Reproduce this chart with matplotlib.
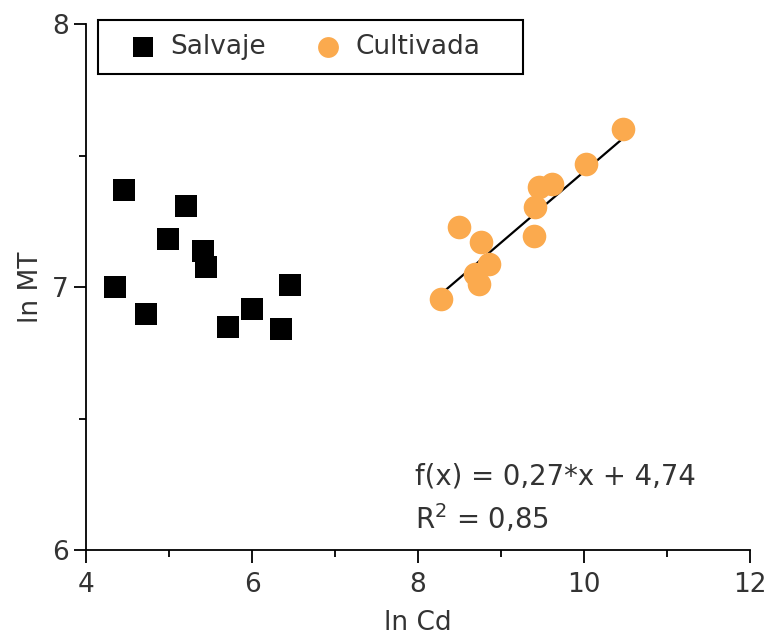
import numpy as np
import matplotlib.pyplot as plt
from matplotlib.patches import Rectangle
from matplotlib.ticker import MultipleLocator

# Salvaje (wild) samples
salv_x = [4.46, 5.20, 4.99, 5.41, 5.44, 4.35, 6.46, 4.72, 6.00, 5.71, 6.35]
salv_y = [7.369, 7.309, 7.185, 7.137, 7.076, 7.001, 7.010, 6.900, 6.917, 6.849, 6.841]

# Cultivada (cultivated) samples
cult_x = [10.47, 10.02, 9.61, 9.46, 9.41, 8.49, 9.39, 8.76, 8.85, 8.69, 8.73, 8.28]
cult_y = [7.603, 7.470, 7.394, 7.381, 7.305, 7.229, 7.194, 7.172, 7.090, 7.052, 7.014, 6.957]

# fit reported on the chart
slope, intercept, r2 = 0.27, 4.74, 0.85

orange = '#FBAA4E'
plt.rcParams['font.family'] = 'DejaVu Sans'
plt.rcParams['font.size'] = 19

fig = plt.figure(figsize=(7.75, 6.39), dpi=100)
ax = fig.add_axes([0.111, 0.139, 0.857, 0.823])

ax.scatter(salv_x, salv_y, marker='s', s=16**2, color='black', lw=0, label='Salvaje', zorder=3)
xf = np.array([min(cult_x), max(cult_x)])
ax.plot(xf, slope * xf + intercept, color='black', lw=1.6, zorder=2)
ax.scatter(cult_x, cult_y, marker='o', s=17**2, color=orange, lw=0, label='Cultivada', zorder=3)

ax.set_xlim(4, 12)
ax.set_ylim(6, 8)
ax.xaxis.set_major_locator(MultipleLocator(2))
ax.xaxis.set_minor_locator(MultipleLocator(1))
ax.yaxis.set_major_locator(MultipleLocator(1))
ax.yaxis.set_minor_locator(MultipleLocator(0.5))
for s in ['top', 'right']:
    ax.spines[s].set_visible(False)
for s in ['left', 'bottom']:
    ax.spines[s].set_linewidth(1.3)
ax.tick_params(which='major', length=9, width=1.3, color='black', labelcolor='#333333')
ax.tick_params(axis='x', which='major', pad=7)
ax.tick_params(which='minor', length=5, width=1.3, color='black')

ax.set_xlabel('ln Cd', color='#333333', labelpad=8)
ax.set_ylabel('ln MT', color='#333333', labelpad=6)

ax.text(7.96, 6.25, f'f(x) = {slope:.2f}*x + {intercept:.2f}'.replace('.', ','),
        color='#333333', fontsize=19.8)
ax.text(7.96, 6.08, f'R$^2$ = {r2:.2f}'.replace('.', ','), color='#333333', fontsize=19.8)

# legend box drawn separately so its padding matches the original
fig.patches.append(Rectangle((98 / 775, 1 - 74 / 639), 425 / 775, 54 / 639,
                             transform=fig.transFigure, fill=False, edgecolor='black', lw=1.5))
leg = ax.legend(loc='center left', bbox_to_anchor=(111 / 775, 1 - 47 / 639), bbox_transform=fig.transFigure,
                ncol=2, frameon=False, borderpad=0, handletextpad=-0.15, columnspacing=1.15,
                handlelength=2.4, borderaxespad=0, markerscale=1.0)
for t in leg.get_texts():
    t.set_color('#333333')
for h in leg.legend_handles:
    h.set_sizes([15**2])

fig.savefig('out.png', dpi=100)
